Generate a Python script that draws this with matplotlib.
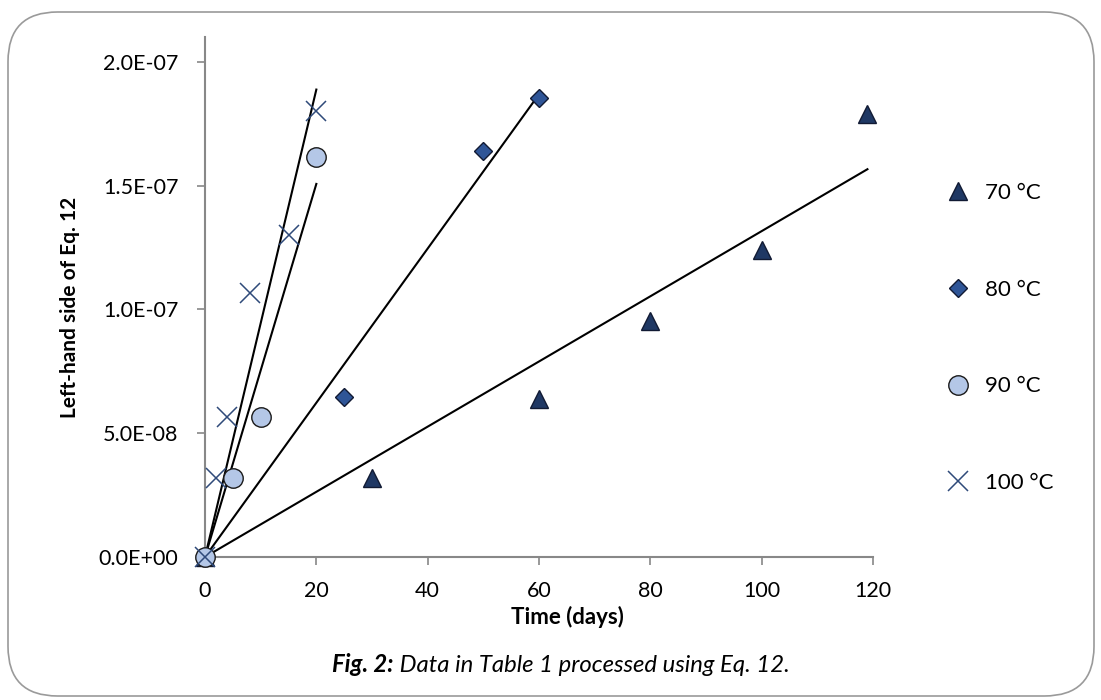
import numpy as np
import matplotlib
matplotlib.use("Agg")
import matplotlib.pyplot as plt
from matplotlib.patches import FancyBboxPatch

plt.rcParams['font.family'] = ['Lato', 'DejaVu Sans']

# ---- data (time in days, left-hand side of Eq. 12) ----
t_70 = [0, 30, 60, 80, 100, 119]
y_70 = [0, 3.2e-8, 6.4e-8, 9.55e-8, 1.24e-7, 1.79e-7]

t_80 = [0, 25, 50, 60]
y_80 = [0, 6.45e-8, 1.64e-7, 1.855e-7]

t_90 = [0, 5, 10, 20]
y_90 = [0, 3.2e-8, 5.65e-8, 1.615e-7]

t_100 = [0, 2, 4, 8, 15, 20]
y_100 = [0, 3.2e-8, 5.65e-8, 1.065e-7, 1.30e-7, 1.80e-7]

labels = ['70 °C', '80 °C', '90 °C', '100 °C']
x_ticks = [0, 20, 40, 60, 80, 100, 120]
y_ticks = [0, 5e-8, 1e-7, 1.5e-7, 2e-7]

GRAY = '#888888'
W, H = 1101, 700

fig = plt.figure(figsize=(W / 100, H / 100), dpi=100)
ax = fig.add_axes([205 / W, 1 - 557 / H, (873 - 205) / W, (557 - 37) / H])

# rounded frame around the whole figure
frame = FancyBboxPatch((8 / W, 4 / H), 1086 / W, 684 / H,
                       boxstyle="round,pad=0,rounding_size=0.045",
                       transform=fig.transFigure, fill=False,
                       edgecolor='#9a9a9a', linewidth=1.2,
                       mutation_aspect=W / H)
fig.patches.append(frame)


def origin_fit(t, y):
    # linear trendline forced through the origin
    t = np.asarray(t, float)
    y = np.asarray(y, float)
    k = np.sum(t * y) / np.sum(t * t)
    return np.array([0, t.max()]), k * np.array([0, t.max()])


styles = [
    dict(marker='^', color='#1f3864', markeredgecolor='#111a33', markersize=13),
    dict(marker='D', color='#2f5597', markeredgecolor='#111a33', markersize=9.5),
    dict(marker='o', color='#b4c7e7', markeredgecolor='#1a1a1a', markersize=14),
    dict(marker='x', color='#2f4a7a', markeredgecolor='#2f4a7a', markersize=14,
         markeredgewidth=1.1),
]
series = [(t_70, y_70), (t_80, y_80), (t_90, y_90), (t_100, y_100)]

handles = []
for (t, y), st, lab in zip(series, styles, labels):
    fx, fy = origin_fit(t, y)
    ax.plot(fx, fy, color='black', linewidth=1.5, zorder=2)
    kw = dict(st)
    if kw['marker'] != 'x':
        kw.setdefault('markeredgewidth', 1.0)
    h, = ax.plot(t, y, linestyle='none', label=lab, zorder=3, clip_on=False, **kw)
    handles.append(h)

ax.set_xlim(0, 120)
ax.set_ylim(0, 2.1e-7)
ax.set_xticks(x_ticks)
ax.set_yticks(y_ticks)
ax.set_yticklabels(['%.1E' % v for v in y_ticks])

for s in ['top', 'right']:
    ax.spines[s].set_visible(False)
for s in ['left', 'bottom']:
    ax.spines[s].set_color(GRAY)
    ax.spines[s].set_linewidth(1.5)
ax.tick_params(axis='both', direction='out', length=6, width=1.2, color=GRAY,
               labelsize=15.5)
ax.tick_params(axis='y', pad=13)
ax.tick_params(axis='x', pad=11)

fig.text(70 / W, 1 - 307 / H, 'Left-hand side of Eq. 12', rotation=90,
         ha='center', va='center', fontsize=15, fontweight='bold')
fig.text(567 / W, 1 - 617 / H, 'Time (days)', ha='center', va='center',
         fontsize=16, fontweight='bold')

# caption
cap_y = 1 - 665 / H
t1 = fig.text(0.5, cap_y, 'Fig. 2:', fontsize=17.2, fontweight='bold',
              style='italic', ha='left', va='center')
t2 = fig.text(0.5, cap_y, ' Data in Table 1 processed using Eq. 12.', fontsize=17.2,
              style='italic', ha='left', va='center')
fig.canvas.draw()
r = fig.canvas.get_renderer()
w1 = t1.get_window_extent(r).width
w2 = t2.get_window_extent(r).width
x0 = 561 - (w1 + w2) / 2
t1.set_x(x0 / W)
t2.set_x((x0 + w1) / W)

fig.legend(handles=handles, labels=labels, loc='center left',
           bbox_to_anchor=(925 / W, 1 - 338 / H), frameon=False,
           fontsize=16, labelspacing=3.45, handlelength=1.2, handletextpad=0.6,
           numpoints=1)

fig.savefig('out.png', dpi=100)
